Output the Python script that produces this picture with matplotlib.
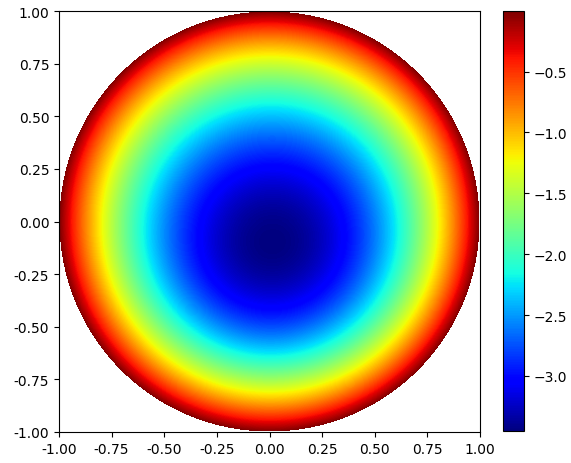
import numpy as np
import matplotlib
matplotlib.use("Agg")
import matplotlib.pyplot as plt

# Field parameters (solution on the unit disk, zero on boundary)
depth = 3.42          # central depth of the bowl
tilt_x = 0.10         # small shift of the minimum towards +x
tilt_y = -0.68        # shift of the minimum towards -y
grid_n = 420          # sampling resolution of the field
cbar_ticks = [-3.0, -2.5, -2.0, -1.5, -1.0, -0.5]
axis_ticks = [-1.00, -0.75, -0.50, -0.25, 0.00, 0.25, 0.50, 0.75, 1.00]

xs = np.linspace(-1, 1, grid_n)
ys = np.linspace(-1, 1, grid_n)
X, Y = np.meshgrid(xs, ys)
R2 = X**2 + Y**2
U = (R2 - 1.0) * (depth + (tilt_x * X + tilt_y * Y) * (1.0 - R2))
U = np.ma.masked_where(R2 > 1.0, U)

fig = plt.figure(figsize=(5.71, 4.64), dpi=100)
ax = fig.add_axes([59/571, 31/464, 421/571, 421/464])
cax = fig.add_axes([503/571, 32/464, 21/571, 420/464])

pc = ax.pcolormesh(X, Y, U, cmap="jet", shading="auto", vmin=U.min(), vmax=U.max())
ax.set_xlim(-1, 1)
ax.set_ylim(-1, 1)
ax.set_xticks(axis_ticks)
ax.set_yticks(axis_ticks)
ax.set_xticklabels([f"{t:.2f}" for t in axis_ticks])
ax.set_yticklabels([f"{t:.2f}" for t in axis_ticks])

cb = fig.colorbar(pc, cax=cax)
cb.set_ticks(cbar_ticks)
cb.set_ticklabels([f"{t:.1f}".replace("-", "\u2212") for t in cbar_ticks])

fig.savefig("out.png", dpi=100)
